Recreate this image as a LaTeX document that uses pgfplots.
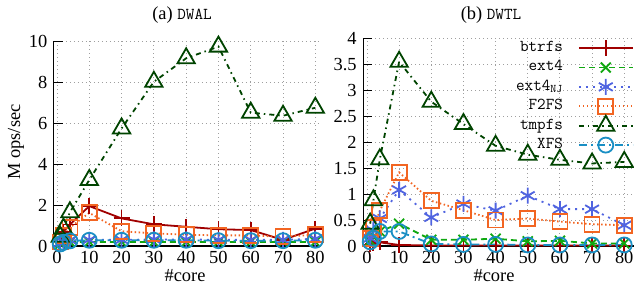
\documentclass[border=0pt]{standalone}
\usepackage{fontspec}
\setmainfont{Liberation Serif}
\usepackage{pgfplots}
\usepackage{pgfplotstable}
\pgfplotsset{compat=1.18}
\definecolor{cbtrfs}{HTML}{A00000}
\definecolor{cext}{HTML}{10A810}
\definecolor{cnj}{HTML}{5064E0}
\definecolor{cf2}{HTML}{F26522}
\definecolor{ctmp}{HTML}{004400}
\definecolor{cxfs}{HTML}{1A8FC4}

\pgfplotstableread{
x btrfs ext4 nj f2fs tmpfs xfs
1  0.35 0.10 0.15 0.20 0.45 0.10
2  0.70 0.15 0.20 0.50 0.85 0.18
4  1.05 0.20 0.28 0.90 1.65 0.25
10 1.95 0.20 0.30 1.62 3.23 0.28
20 1.35 0.20 0.30 0.72 5.75 0.28
30 1.06 0.20 0.32 0.62 8.03 0.28
40 0.94 0.20 0.32 0.55 9.18 0.28
50 0.82 0.20 0.30 0.52 9.75 0.26
60 0.78 0.20 0.30 0.52 6.52 0.26
70 0.30 0.20 0.30 0.45 6.37 0.26
80 0.85 0.20 0.35 0.55 6.76 0.28
}\dwal

\pgfplotstableread{
x btrfs ext4 nj f2fs tmpfs xfs
1  0.03 0.10 0.15 0.15 0.43 0.08
2  0.05 0.18 0.30 0.35 0.88 0.15
4  0.07 0.28 0.53 0.68 1.67 0.28
10 0.02 0.43 1.08 1.42 3.55 0.28
20 0.01 0.12 0.55 0.87 2.78 0.04
30 0.01 0.12 0.81 0.69 2.35 0.03
40 0.01 0.14 0.68 0.50 1.93 0.03
50 0.01 0.09 0.97 0.53 1.76 0.02
60 0.01 0.10 0.71 0.47 1.66 0.02
70 0.01 0.05 0.71 0.42 1.59 0.02
80 0.01 0.05 0.40 0.40 1.62 0.02
}\dwtl

\newcommand{\fnt}{\fontsize{18.5}{22}\selectfont}
\newcommand{\tfnt}{\ttfamily\fontsize{16.7}{19}\selectfont}

\pgfplotsset{
  myax/.style={
    scale only axis, clip=false,
    axis x line*=bottom, axis y line*=left,
    axis line style={-, line width=1.2bp, black},
    tick align=inside, major tick length=9bp,
    tick style={line width=1bp, black},
    grid=major,
    major grid style={gray!75, line width=0.9bp, dash pattern=on 1bp off 3bp},
    xtick={0,10,20,30,40,50,60,70,80},
    /pgf/number format/assume math mode=true,
    ticklabel style={font=\fnt},
    xticklabel style={yshift=-2bp},
    yticklabel style={xshift=-3bp},
  },
  pb/.style={cbtrfs, solid, line width=1.8bp, mark=+, mark size=8bp, mark options={solid, line width=1.8bp}},
  pe/.style={cext, line width=1.8bp, dash pattern=on 6bp off 4bp, mark=x, mark size=7bp, mark options={solid, line width=1.8bp}},
  pn/.style={cnj, line width=1.8bp, dash pattern=on 2bp off 5bp, mark=asterisk, mark size=8bp, mark options={solid, line width=1.8bp}},
  pf/.style={cf2, line width=1.8bp, dash pattern=on 1.5bp off 2.5bp, mark=square, mark size=7.5bp, mark options={solid, line width=1.8bp}},
  pt/.style={ctmp, line width=1.8bp, dash pattern=on 5bp off 4bp on 1.5bp off 4bp, mark=triangle, mark size=10bp, mark options={solid, line width=1.8bp}},
  px/.style={cxfs, line width=1.8bp, dash pattern=on 8bp off 4bp on 2bp off 4bp, mark=o, mark size=7.5bp, mark options={solid, line width=1.8bp}},
}

\begin{document}
\begin{tikzpicture}
\path[use as bounding box] (0,0) rectangle (634bp,286bp);

\begin{axis}[myax, at={(53.77bp,40bp)}, anchor=south west,
  x=3.229bp, y=20.45bp, xmin=-1, xmax=81, ymin=0, ymax=10,
  ytick={0,2,4,6,8,10}]
\addplot[pb] table[x=x,y=btrfs] {\dwal};
\addplot[pe] table[x=x,y=ext4] {\dwal};
\addplot[pn] table[x=x,y=nj] {\dwal};
\addplot[pf] table[x=x,y=f2fs] {\dwal};
\addplot[pt] table[x=x,y=tmpfs] {\dwal};
\addplot[px] table[x=x,y=xfs] {\dwal};
\end{axis}

\begin{axis}[myax, at={(363.1bp,40bp)}, anchor=south west,
  x=3.216bp, y=51.9bp, xmin=-1.2, xmax=83, ymin=0, ymax=4,
  ytick={0,0.5,1,1.5,2,2.5,3,3.5,4},
  legend cell align=right, legend plot pos=right,
  legend style={at={(1,1)}, anchor=north east, draw=none, fill=none,
    font=\tfnt, inner sep=0pt, column sep=15bp, row sep=0pt,
    nodes={inner sep=0pt, text height=13bp, text depth=6.3bp}},
  legend image code/.code={\draw[mark repeat=2,mark phase=2,#1] plot coordinates {(0bp,0bp) (27bp,0bp) (54bp,0bp)};}]
\addplot[pb] table[x=x,y=btrfs] {\dwtl};
\addlegendentry{btrfs}
\addplot[pe] table[x=x,y=ext4] {\dwtl};
\addlegendentry{ext4}
\addplot[pn] table[x=x,y=nj] {\dwtl};
\addlegendentry{ext4\textsubscript{NJ}}
\addplot[pf] table[x=x,y=f2fs] {\dwtl};
\addlegendentry{F2FS}
\addplot[pt] table[x=x,y=tmpfs] {\dwtl};
\addlegendentry{tmpfs}
\addplot[px] table[x=x,y=xfs] {\dwtl};
\addlegendentry{XFS}
\end{axis}

\node[font=\fnt] at (182bp,271bp) {(a) {\tfnt DWAL}};
\node[font=\fnt] at (491bp,271bp) {(b) {\tfnt DWTL}};
\node[font=\fnt, rotate=90] at (16bp,144bp) {M ops/sec};
\node[font=\fnt] at (185bp,10bp) {\#core};
\node[font=\fnt] at (494bp,10bp) {\#core};
\end{tikzpicture}
\end{document}
